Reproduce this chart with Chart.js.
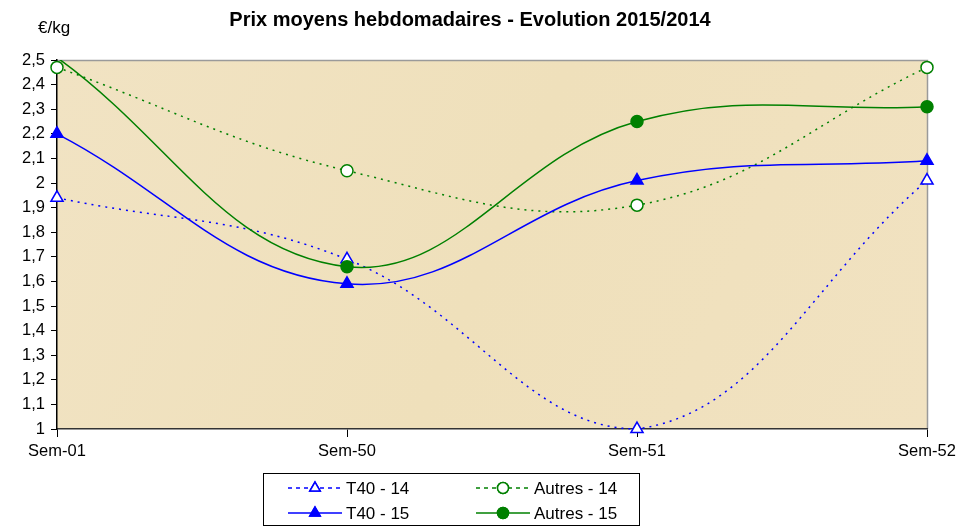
<!DOCTYPE html>
<html>
<head>
<meta charset="utf-8">
<script src="https://cdn.jsdelivr.net/npm/chart.js@4/dist/chart.umd.min.js"></script>
<style>
  body { margin: 0; background: #fff; }
  #wrap { width: 957px; height: 527px; position: relative; }
</style>
</head>
<body>
<div id="wrap"><canvas id="prix"></canvas></div>
<script>
const weeks = ['Sem-01', 'Sem-50', 'Sem-51', 'Sem-52'];
const t40_14 = [1.94, 1.69, 1.00, 2.01];
const autres_14 = [2.47, 2.05, 1.91, 2.47];
const t40_15 = [2.20, 1.59, 2.01, 2.09];
const autres_15 = [2.51, 1.66, 2.25, 2.31];

const BLUE = '#0000ff';
const GREEN = '#008000';
const FONT = '"Liberation Sans", Arial, sans-serif';

// hide markers that fall outside the axis range, like the original
const hideOut = (r) => (ctx) => {
    const v = ctx.raw;
    return (v > 2.5 || v < 1) ? 0 : r;
};

const series = [
    { label: 'T40 - 14', data: t40_14, borderColor: BLUE, backgroundColor: '#fff',
      borderDash: [2, 5], pointStyle: 'triangle', pointRadius: 7, order: 4 },
    { label: 'Autres - 14', data: autres_14, borderColor: GREEN, backgroundColor: '#fff',
      borderDash: [2, 5], pointStyle: 'circle', pointRadius: 6, order: 3 },
    { label: 'T40 - 15', data: t40_15, borderColor: BLUE, backgroundColor: BLUE,
      borderDash: [], pointStyle: 'triangle', pointRadius: 7, order: 2 },
    { label: 'Autres - 15', data: autres_15, borderColor: GREEN, backgroundColor: GREEN,
      borderDash: [], pointStyle: 'circle', pointRadius: 6, order: 1 }
];

const decor = {
    id: 'decor',
    beforeDraw(chart) {
        const { ctx, chartArea: a } = chart;
        ctx.save();
        const g = ctx.createLinearGradient(a.left, a.top, a.right, a.bottom);
        g.addColorStop(0, '#f1e3c3');
        g.addColorStop(0.5, '#efe0bb');
        g.addColorStop(1, '#f1e2c1');
        ctx.fillStyle = g;
        ctx.fillRect(a.left, a.top, a.right - a.left, a.bottom - a.top);
        ctx.strokeStyle = '#9a9a9a';
        ctx.lineWidth = 1.5;
        ctx.beginPath();
        ctx.moveTo(a.left, a.top + 0.5);
        ctx.lineTo(a.right + 0.5, a.top + 0.5);
        ctx.lineTo(a.right + 0.5, a.bottom);
        ctx.stroke();
        ctx.restore();
    },
    afterDraw(chart) {
        const ctx = chart.ctx;
        ctx.save();
        ctx.fillStyle = '#000';
        ctx.textBaseline = 'middle';
        ctx.font = 'bold 20px ' + FONT;
        ctx.textAlign = 'center';
        ctx.fillText('Prix moyens hebdomadaires - Evolution 2015/2014', 470, 20);
        ctx.font = '17px ' + FONT;
        ctx.textAlign = 'left';
        ctx.fillText('€/kg', 38, 28);

        // legend
        ctx.strokeStyle = '#000';
        ctx.lineWidth = 1;
        ctx.strokeRect(263.5, 473.5, 376, 52);
        ctx.font = '17px ' + FONT;
        chart.data.datasets.forEach((ds, i) => {
            const col = i % 2, row = Math.floor(i / 2);
            const x0 = col === 0 ? 288 : 476;
            const y = row === 0 ? 488 : 513;
            ctx.save();
            ctx.strokeStyle = ds.borderColor;
            ctx.lineWidth = 1.5;
            ctx.setLineDash(ds.borderDash.length ? [4, 4] : []);
            ctx.beginPath();
            ctx.moveTo(x0, y);
            ctx.lineTo(x0 + 54, y);
            ctx.stroke();
            ctx.setLineDash([]);
            Chart.helpers.drawPoint(ctx, {
                pointStyle: ds.pointStyle, radius: ds.pointStyle === 'triangle' ? 6 : 5.5,
                rotation: 0, borderWidth: 1.5
            }, x0 + 27, y);
            ctx.fillStyle = ds.backgroundColor;
            ctx.fill();
            ctx.stroke();
            ctx.restore();
            ctx.fillStyle = '#000';
            ctx.fillText(ds.label, x0 + 58, y + 1);
        });
        ctx.restore();
    }
};

new Chart(document.getElementById('prix'), {
    type: 'line',
    data: {
        labels: weeks,
        datasets: series.map(s => ({
            ...s,
            borderWidth: 1.5,
            pointBorderWidth: 1.5,
            pointBackgroundColor: s.backgroundColor,
            pointBorderColor: s.borderColor,
            pointRadius: hideOut(s.pointRadius),
            tension: 0.4,
            fill: false,
            clip: { left: 12, right: 12, top: 0, bottom: 12 }
        }))
    },
    options: {
        responsive: true,
        maintainAspectRatio: false,
        animation: false,
        layout: { padding: { top: 60, right: 30, left: 0, bottom: 0 } },
        plugins: {
            legend: { display: false },
            title: { display: false },
            tooltip: { enabled: false }
        },
        scales: {
            x: {
                offset: false,
                grid: { display: true, drawOnChartArea: false, color: '#000', tickLength: 8 },
                border: { color: '#333', width: 1.5 },
                ticks: { color: '#000', font: { family: FONT, size: 16.5 }, padding: 5,
                         maxRotation: 0, autoSkip: false },
                afterFit(s) { s.height = 98; s.paddingLeft = 0; s.paddingRight = 0; }
            },
            y: {
                min: 1,
                max: 2.5,
                grid: { display: true, drawOnChartArea: false, color: '#000', tickLength: 6 },
                border: { color: '#000', width: 1.5 },
                ticks: {
                    stepSize: 0.1,
                    color: '#000',
                    font: { family: FONT, size: 16.5 },
                    padding: 6,
                    callback: (v) => String(Number(v.toFixed(1))).replace('.', ',')
                },
                afterFit(s) { s.width = 57; }
            }
        }
    },
    plugins: [decor]
});
</script>
</body>
</html>
